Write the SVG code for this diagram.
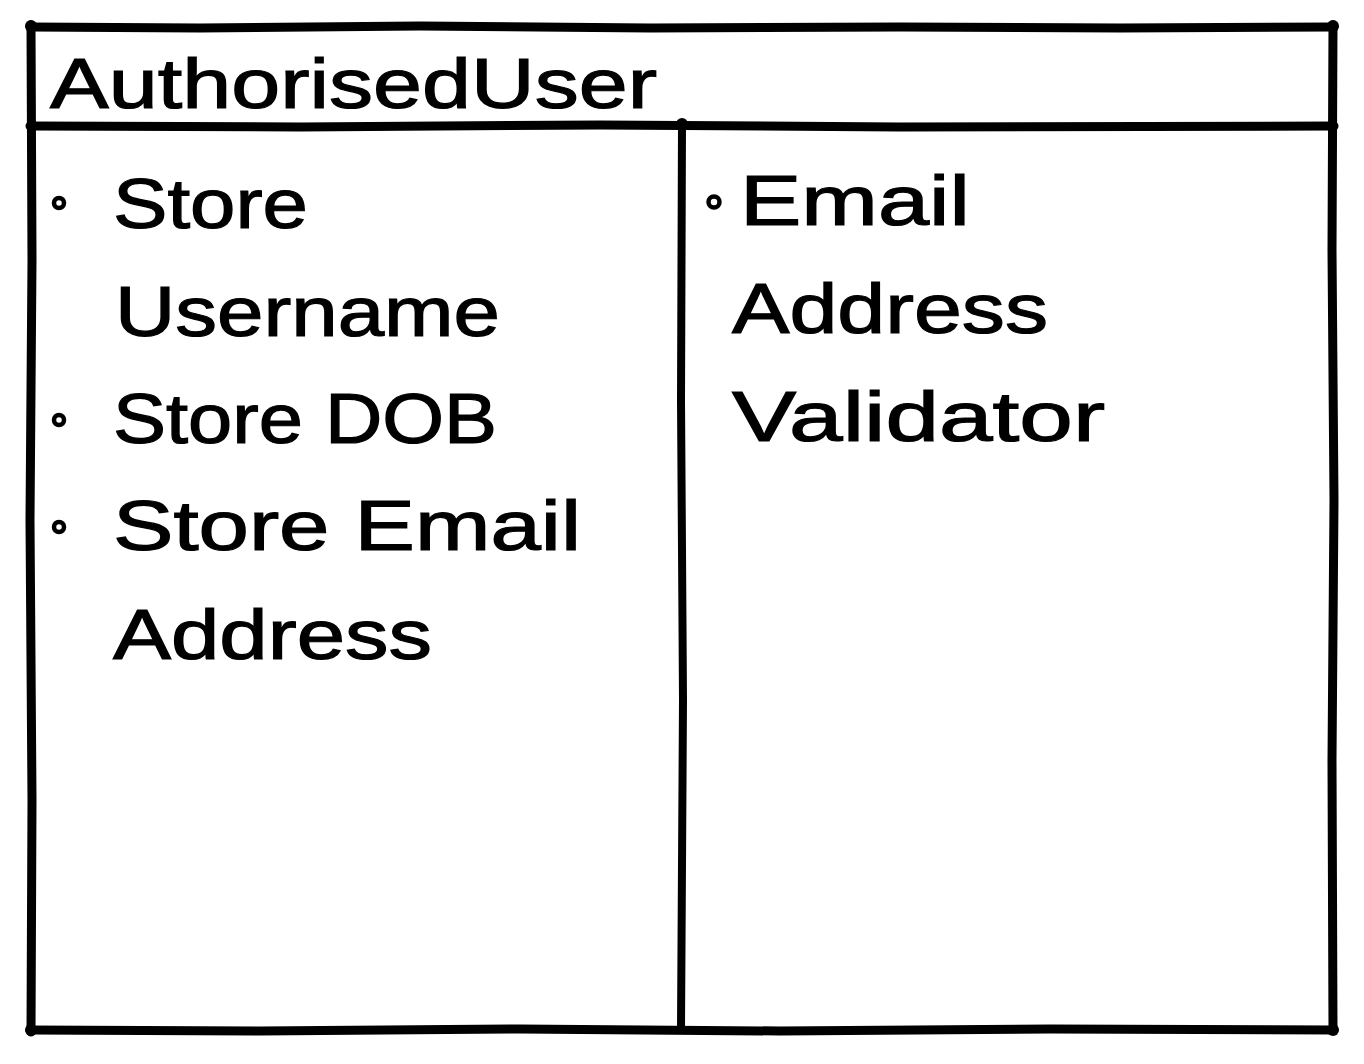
<svg xmlns="http://www.w3.org/2000/svg" width="1364" height="1064" viewBox="0 0 1364 1064">
<style>
.ln{fill:none;stroke:#000;stroke-width:9;stroke-linecap:round;stroke-linejoin:round}
.ln2{fill:none;stroke:#000;stroke-width:8;stroke-linecap:round;stroke-linejoin:round}
.t{font-family:"Liberation Sans","DejaVu Sans",sans-serif;font-size:70px;fill:#000;stroke:#000;stroke-width:1.2}
.b{fill:#fff;stroke:#000;stroke-width:4.5}
.dot{fill:#000}
</style>
<rect width="1364" height="1064" fill="#fff"/>
<g id="card">
<path class="ln" d="M30,27 L200,28 L420,26 L650,28 L900,27 L1120,28 L1334,27"/>
<path class="ln" d="M1333,25 L1332,250 L1334,500 L1332,760 L1333,1030"/>
<path class="ln" d="M30,1030 L260,1031 L520,1029 L780,1031 L1050,1029 L1334,1030"/>
<path class="ln" d="M31,25 L32,260 L30,520 L32,800 L31,1032"/>
<path class="ln" d="M30,126 L300,127 L600,125 L900,127 L1334,126"/>
<path class="ln2" d="M682,124 L681,400 L683,700 L681,1030"/>
<circle class="dot" cx="31" cy="26" r="6"/>
<circle class="dot" cx="1333" cy="26" r="6"/>
<circle class="dot" cx="31" cy="1030" r="6"/>
<circle class="dot" cx="1333" cy="1030" r="6"/>
<circle class="dot" cx="682" cy="124" r="6"/>
</g>
<g id="title">
<text class="t" x="50" y="108" textLength="607" lengthAdjust="spacingAndGlyphs">AuthorisedUser</text>
</g>
<g id="responsibilities">
<circle class="b" cx="59" cy="203" r="5"/>
<text class="t" x="113" y="228" textLength="195" lengthAdjust="spacingAndGlyphs">Store</text>
<text class="t" x="115" y="336" textLength="385" lengthAdjust="spacingAndGlyphs">Username</text>
<circle class="b" cx="59" cy="420" r="5"/>
<text class="t" x="113" y="443" textLength="384" lengthAdjust="spacingAndGlyphs">Store DOB</text>
<circle class="b" cx="59" cy="527" r="5"/>
<text class="t" x="113" y="550" textLength="468" lengthAdjust="spacingAndGlyphs">Store Email</text>
<text class="t" x="113" y="659" textLength="319" lengthAdjust="spacingAndGlyphs">Address</text>
</g>
<g id="collaborators">
<circle class="b" cx="714" cy="202" r="5.5"/>
<text class="t" x="740" y="225" textLength="230" lengthAdjust="spacingAndGlyphs">Email</text>
<text class="t" x="732" y="333" textLength="316" lengthAdjust="spacingAndGlyphs">Address</text>
<text class="t" x="732" y="441" textLength="373" lengthAdjust="spacingAndGlyphs">Validator</text>
</g>
</svg>
